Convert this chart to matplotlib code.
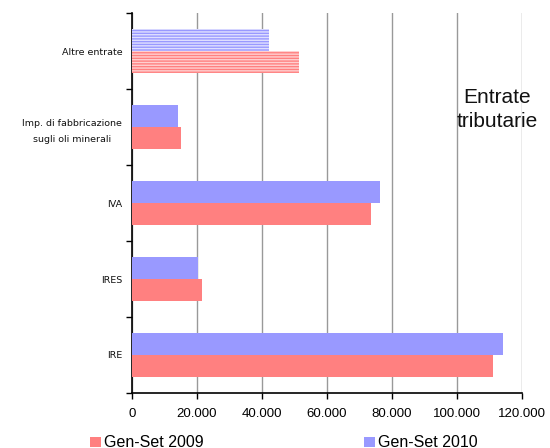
import matplotlib
matplotlib.use("Agg")
import matplotlib.pyplot as plt
from matplotlib.patches import Rectangle
import numpy as np

categories = ["IRE", "IRES", "IVA", "Imp. di fabbricazione\nsugli oli minerali", "Altre entrate"]
vals_2009 = [111000, 21500, 73500, 15000, 51400]
vals_2010 = [114200, 20300, 76300, 14200, 42200]
series_labels = ["Gen-Set 2009", "Gen-Set 2010"]
xticks = [0, 20000, 40000, 60000, 80000, 100000, 120000]
xtick_labels = ["0", "20.000", "40.000", "60.000", "80.000", "100.000", "120.000"]

red = "#FF8080"
blue = "#9999FF"
plt.rcParams['font.family'] = ['Liberation Sans', 'DejaVu Sans']
plt.rcParams['hatch.linewidth'] = 1.0

fig = plt.figure(figsize=(5.5, 4.48), dpi=100)
ax = fig.add_axes([0.24, 0.1228, 0.709, 0.848])

y = np.arange(len(categories))
h = 0.29
for i in range(len(categories)):
    hatched = categories[i] == "Altre entrate"
    if hatched:
        ax.barh(y[i] - h/2, vals_2009[i], height=h, color=red, edgecolor="#FFD0D0",
                hatch="------", linewidth=0, zorder=3)
        ax.barh(y[i] + h/2, vals_2010[i], height=h, color=blue, edgecolor="#E0E0FF",
                hatch="------", linewidth=0, zorder=3)
    else:
        ax.barh(y[i] - h/2, vals_2009[i], height=h, color=red, linewidth=0, zorder=3)
        ax.barh(y[i] + h/2, vals_2010[i], height=h, color=blue, linewidth=0, zorder=3)

ax.set_xlim(0, 120000)
ax.set_ylim(-0.5, len(categories) - 0.5)
ax.set_xticks(xticks)
ax.set_xticklabels(xtick_labels, fontsize=9.5)
ax.set_yticks(y)
ax.set_yticklabels(categories, fontsize=6.8, linespacing=2.0, family="DejaVu Sans",
                   color="#111111")
for lab in ax.get_yticklabels():
    lab.set_multialignment("center")
ax.set_yticks(np.arange(-0.5, len(categories)), minor=True)
ax.tick_params(axis="y", which="major", length=0, pad=7)
ax.tick_params(axis="y", which="minor", length=4, width=1, direction="out")
ax.tick_params(axis="x", which="major", length=4, width=1, direction="out", pad=7)
ax.grid(axis="x", color="#999999", linewidth=1, zorder=0)
for s in ["top", "right"]:
    ax.spines[s].set_visible(False)
ax.spines["left"].set_linewidth(1.2)
ax.spines["bottom"].set_linewidth(1.2)

fig.text(0.904, 0.755, "Entrate\ntributarie", fontsize=15, ha="center", va="center",
         linespacing=1.35, color="#111111")

# legend
fig.patches.append(Rectangle((90/550, 1 - 447/448), 11/550, 10/448, transform=fig.transFigure,
                             facecolor=red, edgecolor="none"))
fig.text(104/550, 1 - 442/448, series_labels[0], fontsize=11.5, va="center", ha="left")
fig.patches.append(Rectangle((364/550, 1 - 447/448), 11/550, 10/448, transform=fig.transFigure,
                             facecolor=blue, edgecolor="none"))
fig.text(378/550, 1 - 442/448, series_labels[1], fontsize=11.5, va="center", ha="left")

fig.savefig("out.png", dpi=100)
